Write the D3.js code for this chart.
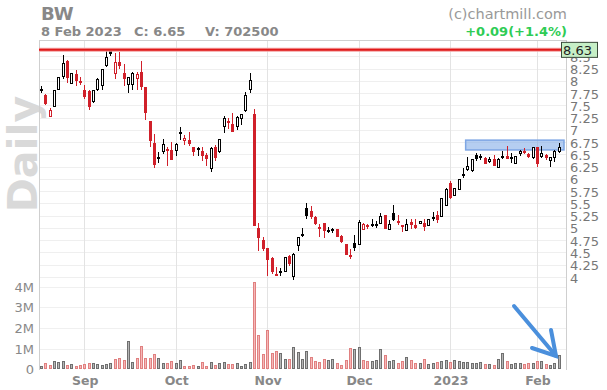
<!DOCTYPE html>
<html><head><meta charset="utf-8">
<script src="https://cdn.jsdelivr.net/npm/d3@7"></script>
<style>
html,body{margin:0;padding:0;background:#fff;}
svg{display:block;font-family:"DejaVu Sans",sans-serif;}
</style></head>
<body>
<svg id="chart" width="607" height="390"></svg>
<script>
// ---- Data (daily candles, 18 Aug 2022 .. 8 Feb 2023, indexed by trading day) ----
const openP  = [7.82,7.72,7.27,7.47,7.82,8.07,8.41,7.94,8.13,8.00,
  7.82,7.79,7.57,7.81,7.89,8.31,8.62,8.13,8.39,8.16,7.92,7.92,8.04,8.18,7.88,7.19,6.74,6.45,6.54,6.60,6.58,
  6.57,6.95,6.77,6.79,6.64,6.63,6.56,6.48,6.21,6.64,6.55,7.06,7.18,7.11,7.06,7.23,7.38,7.81,7.32,4.99,4.75,
  4.60,4.39,4.06,4.12,4.10,4.42,4.00,4.63,4.87,5.40,5.34,5.22,5.02,5.10,4.95,4.97,4.97,4.84,4.68,4.45,4.69,
  4.65,4.96,5.05,5.06,5.08,5.09,5.26,4.96,5.31,5.14,5.05,4.94,5.12,5.07,5.08,5.10,5.04,5.21,5.26,5.23,5.44,
  5.91,5.65,5.77,6.10,6.19,6.16,6.48,6.46,6.42,6.34,6.41,6.23,6.46,6.47,6.43,6.31,6.51,6.56,6.50,6.42,
  6.65,6.45,6.48,6.36,6.43,6.54];
const highP  = [7.89,7.73,7.45,7.82,8.08,8.52,8.42,8.15,8.21,8.07,
  7.92,7.82,7.82,8.06,8.24,8.62,8.65,8.57,8.58,8.34,8.08,8.18,8.18,8.40,7.88,7.19,6.91,6.55,6.81,6.64,6.76,
  6.74,7.06,6.89,6.95,6.64,6.66,6.66,6.52,6.65,6.69,6.82,7.29,7.25,7.35,7.28,7.32,7.77,8.15,7.42,5.11,4.81,
  4.60,4.40,4.20,4.18,4.40,4.44,4.49,4.81,4.99,5.51,5.44,5.24,5.08,5.10,5.02,5.00,4.98,4.86,4.68,4.58,4.85,
  5.16,5.11,5.09,5.18,5.14,5.31,5.27,5.16,5.46,5.26,5.06,5.18,5.18,5.18,5.15,5.19,5.19,5.32,5.34,5.61,5.81,
  5.96,5.81,5.99,6.22,6.45,6.40,6.53,6.50,6.45,6.45,6.48,6.42,6.56,6.67,6.53,6.47,6.58,6.62,6.52,6.66,
  6.65,6.68,6.50,6.45,6.58,6.74];
const lowP   = [7.76,7.51,7.27,7.47,7.82,8.04,7.95,7.94,7.89,7.91,
  7.62,7.40,7.54,7.80,7.82,8.29,8.51,8.04,8.23,7.89,7.76,7.81,7.81,7.81,7.21,6.64,6.23,6.33,6.50,6.27,6.39,
  6.47,6.79,6.69,6.68,6.47,6.47,6.37,6.26,6.14,6.37,6.52,6.93,7.01,6.96,7.00,7.10,7.36,7.76,5.03,4.52,4.54,
  4.03,4.06,4.03,4.03,4.10,4.22,3.93,4.52,4.82,5.19,5.18,5.05,4.82,4.80,4.89,4.90,4.81,4.69,4.44,4.36,4.52,
  4.65,4.96,4.98,5.01,5.00,5.09,4.97,4.96,5.15,5.06,4.91,4.94,4.98,4.98,5.08,4.94,5.04,5.14,5.10,5.23,5.44,
  5.58,5.65,5.77,6.02,6.16,6.15,6.36,6.38,6.30,6.33,6.26,6.23,6.41,6.40,6.33,6.30,6.47,6.51,6.43,6.40,
  6.25,6.43,6.39,6.24,6.34,6.53];
const closeP = [7.83,7.52,7.40,7.82,8.08,8.37,8.05,8.15,7.99,7.98,
  7.67,7.47,7.81,8.04,8.24,8.49,8.55,8.38,8.31,8.04,8.08,8.16,8.13,7.88,7.35,6.77,6.28,6.42,6.72,6.58,6.39,
  6.71,6.92,6.84,6.72,6.55,6.60,6.47,6.40,6.62,6.42,6.82,7.25,7.16,6.96,7.26,7.32,7.72,8.01,5.03,4.80,4.57,
  4.35,4.11,4.03,4.13,4.40,4.27,4.47,4.81,4.88,5.25,5.23,5.09,5.01,4.94,4.96,4.98,4.82,4.71,4.44,4.42,4.59,
  5.13,5.09,5.04,5.08,5.09,5.25,4.98,5.08,5.16,5.13,5.04,5.09,5.06,4.99,5.15,5.01,5.19,5.22,5.16,5.61,5.79,
  5.62,5.81,5.99,6.06,6.26,6.40,6.41,6.47,6.31,6.40,6.26,6.40,6.47,6.40,6.44,6.47,6.57,6.55,6.45,6.66,
  6.31,6.53,6.43,6.45,6.56,6.65];
// volume in millions of shares
const volumeM = [0.18,0.29,0.21,0.40,0.34,0.40,0.19,0.24,0.16,0.21,
  0.26,0.29,0.29,0.24,0.19,0.24,0.29,0.48,0.53,0.45,1.37,0.34,0.53,1.11,0.53,0.53,0.73,0.53,0.29,0.29,0.40,
  0.29,0.45,0.15,0.15,0.19,0.15,0.35,0.15,0.34,0.19,0.29,0.34,0.24,0.24,0.29,0.15,0.24,0.34,4.21,1.65,0.73,
  1.90,0.77,0.87,0.77,0.48,0.48,1.06,0.82,0.48,0.89,0.58,0.40,0.35,0.48,0.44,0.48,0.29,0.19,0.44,1.02,0.97,
  1.06,0.44,0.40,0.40,0.44,0.97,0.68,0.40,0.44,0.29,0.40,0.58,0.45,0.29,0.29,0.48,0.24,0.29,0.34,0.40,0.44,
  0.34,0.44,0.39,0.35,0.34,0.31,0.29,0.34,0.24,0.24,0.19,0.48,0.77,0.39,0.24,0.29,0.29,0.24,0.29,0.29,
  0.39,0.39,0.24,0.19,0.29,0.70];
const monthLabels = ["Sep","Oct","Nov","Dec","2023","Feb"];
const monthIndex  = [10,31,52,73,94,114];
const priceTicks  = [8.5,8.25,8,7.75,7.5,7.25,7,6.75,6.5,6.25,6,5.75,5.5,5.25,5,4.75,4.5,4.25,4];
const volumeTicks = [0,1,2,3,4];
const volumeTickLabels = ["0","1M","2M","3M","4M"];
const resistanceLevel = 8.63;
const zoneLow = 6.59, zoneHigh = 6.79, zoneStart = 97.6;
const headerTicker = "BW";
const headerDate = "8 Feb 2023", headerClose = "C: 6.65", headerVolume = "V: 702500";
const headerChange = "+0.09(+1.4%)";

// ---- Layout ----
const svg = d3.select("#chart");
const L = 39, R = 566, T = 40, B = 370;
const n = closeP.length;
const x = d3.scaleLinear().domain([0, n - 1]).range([40.8, 558.8]);
const y = d3.scaleLinear().domain([4, 8.25]).range([277, 68.5]);
const yv = d3.scaleLinear().domain([0, 4]).range([369.3, 286.6]);

const gray = "#888";
const red = "#d0202a";

// watermark
svg.append("text").attr("transform", "translate(37,154) rotate(-90)")
  .attr("text-anchor", "middle").attr("font-size", 41).attr("font-weight", "bold")
  .attr("fill", "#d9d9d9").text("Daily");

// grid
const grid = svg.append("g").attr("shape-rendering", "crispEdges");
grid.selectAll(".pg").data(priceTicks).join("line")
  .attr("x1", L).attr("x2", R).attr("y1", d => Math.round(y(d)) + 0.5).attr("y2", d => Math.round(y(d)) + 0.5)
  .attr("stroke", "#efefef");
grid.selectAll(".vg").data(volumeTicks.slice(1)).join("line")
  .attr("x1", L).attr("x2", R).attr("y1", d => Math.round(yv(d)) + 0.5).attr("y2", d => Math.round(yv(d)) + 0.5)
  .attr("stroke", "#f0f0f0");
grid.selectAll(".mg").data(monthIndex).join("line")
  .attr("x1", d => Math.round(x(d)) + 0.5).attr("x2", d => Math.round(x(d)) + 0.5)
  .attr("y1", T).attr("y2", B).attr("stroke", "#e3e3e3");

// frame
svg.append("path").attr("d", `M${L + 0.5},${B}V${T + 0.5}H${R + 0.5}V${B}`)
  .attr("fill", "none").attr("stroke", "#cfcfcf").attr("shape-rendering", "crispEdges");

// highlight zone
svg.append("rect").attr("x", x(zoneStart)).attr("y", y(zoneHigh))
  .attr("width", R - 2 - x(zoneStart)).attr("height", y(zoneLow) - y(zoneHigh))
  .attr("fill", "rgba(120,165,230,0.55)").attr("stroke", "#7ea6e4").attr("stroke-width", 1.5);

// volume bars
const vb = svg.append("g").attr("shape-rendering", "crispEdges");
const isUp = i => i === 0 || closeP[i] >= closeP[i - 1];
vb.selectAll("rect").data(volumeM).join("rect")
  .attr("x", (d, i) => Math.round(x(i)) - 0.5)
  .attr("y", d => Math.round(yv(d)) + 0.5)
  .attr("width", 2)
  .attr("height", d => Math.max(0, yv(0) - Math.round(yv(d)) - 1))
  .attr("fill", (d, i) => isUp(i) ? "#b5b5b5" : "#f6b7b7")
  .attr("stroke", (d, i) => isUp(i) ? "#6f6f6f" : "#e08080");

// candles
const cg = svg.append("g").attr("shape-rendering", "crispEdges");
for (let i = 0; i < n; i++) {
  const px = Math.round(x(i));
  const col = isUp(i) ? "#000" : red;
  const o = openP[i], c = closeP[i];
  cg.append("line").attr("x1", px + 0.5).attr("x2", px + 0.5)
    .attr("y1", y(highP[i])).attr("y2", y(lowP[i])).attr("stroke", col);
  const top = Math.round(y(Math.max(o, c))), bot = Math.round(y(Math.min(o, c)));
  if (bot - top < 2) {
    cg.append("rect").attr("x", px - 1).attr("y", top).attr("width", 3).attr("height", Math.max(2, bot - top)).attr("fill", col);
  } else if (c >= o) {
    cg.append("rect").attr("x", px - 0.5).attr("y", top + 0.5).attr("width", 2).attr("height", bot - top - 1)
      .attr("fill", "#fff").attr("stroke", col);
  } else {
    cg.append("rect").attr("x", px - 1).attr("y", top).attr("width", 3).attr("height", bot - top).attr("fill", col);
  }
}

// resistance line
svg.append("line").attr("x1", L).attr("x2", R - 4).attr("y1", y(resistanceLevel)).attr("y2", y(resistanceLevel))
  .attr("stroke", "#f4a0a0").attr("stroke-width", 4);
svg.append("line").attr("x1", L).attr("x2", R - 4).attr("y1", y(resistanceLevel)).attr("y2", y(resistanceLevel))
  .attr("stroke", "#e01818").attr("stroke-width", 2);

// price axis labels
svg.selectAll(".pl").data(priceTicks).join("text")
  .attr("x", 570).attr("y", d => y(d) + 5.5).attr("font-size", 13).attr("fill", "#777")
  .text(d => d3.format("~g")(d));
// resistance label
svg.append("rect").attr("x", 561.5).attr("y", y(resistanceLevel) - 7.5).attr("width", 36).attr("height", 15)
  .attr("fill", "#c6efc6").attr("stroke", "#3a4a3a");
svg.append("text").attr("x", 563).attr("y", y(resistanceLevel) + 5).attr("font-size", 13).attr("fill", "#222")
  .text(resistanceLevel.toFixed(2));

// volume axis labels
svg.selectAll(".vl").data(volumeTicks).join("text")
  .attr("x", 34).attr("y", d => yv(d) + 5).attr("text-anchor", "end")
  .attr("font-size", 13).attr("fill", gray).text((d, i) => volumeTickLabels[i]);

// month labels
svg.selectAll(".ml").data(monthIndex).join("text")
  .attr("x", d => x(d) + 1).attr("y", 385).attr("text-anchor", "middle")
  .attr("font-size", 12.5).attr("font-weight", "bold").attr("fill", gray)
  .text((d, i) => monthLabels[i]);

// header
svg.append("text").attr("x", 41).attr("y", 19.5).attr("font-size", 18).attr("font-weight", "bold").attr("fill", gray).text(headerTicker);
svg.append("text").attr("x", 41).attr("y", 36).attr("font-size", 13).attr("font-weight", "bold").attr("fill", gray).text(headerDate);
svg.append("text").attr("x", 134).attr("y", 36).attr("font-size", 13).attr("font-weight", "bold").attr("fill", gray).text(headerClose);
svg.append("text").attr("x", 205).attr("y", 36).attr("font-size", 13).attr("font-weight", "bold").attr("fill", gray).text(headerVolume);
svg.append("text").attr("x", 567).attr("y", 19).attr("text-anchor", "end").attr("font-size", 14.5).attr("fill", "#999").text("(c)chartmill.com");
svg.append("text").attr("x", 567).attr("y", 36).attr("text-anchor", "end").attr("font-size", 13).attr("font-weight", "bold").attr("fill", "#2ecc55").text(headerChange);

// arrow annotation
const arrow = svg.append("g").attr("stroke", "#4a8fdc").attr("stroke-width", 4)
  .attr("stroke-linecap", "round").attr("fill", "none");
arrow.append("line").attr("x1", 514).attr("y1", 306).attr("x2", 556).attr("y2", 356);
arrow.append("polyline").attr("points", "532,348 556,356 551,330");
</script>
</body></html>
